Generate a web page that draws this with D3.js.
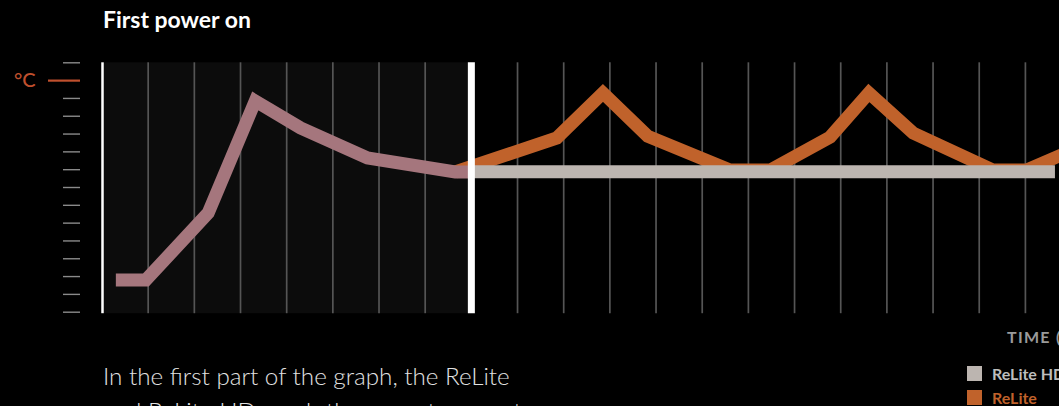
<!DOCTYPE html>
<html>
<head>
<meta charset="utf-8">
<script src="https://cdn.jsdelivr.net/npm/d3@7"></script>
<style>
  html, body { margin:0; padding:0; background:#000; overflow:hidden; }
  svg { display:block; }
  text { font-family: Lato, "Noto Sans", sans-serif; }
</style>
</head>
<body>
<svg id="chart" width="1059" height="406"></svg>
<script>
// ---- data (x in time steps, y in axis-tick units) ----
const timeSteps = d3.range(0, 21);        // vertical grid positions
const tempTicks = d3.range(0, 15);        // y-axis tick marks
const unitTick = 13;                       // tick carrying the °C label
const phaseSplit = 8;                      // first power on ends here

const relitePreX = [0.3, 0.95, 2.3, 3.32, 4.3, 5.75, 7.65, 7.95];
const relitePreY = [1.78, 1.78, 5.54, 11.83, 10.32, 8.63, 7.84, 7.84];

const reliteX = [7.65, 9.85, 10.85, 11.82, 13.6, 14.47, 15.77, 16.61, 17.57, 19.3, 20.03, 21];
const reliteY = [7.84, 9.75, 12.28, 9.85, 7.95, 7.95, 9.8, 12.28, 10.03, 7.95, 7.95, 9.05];

const reliteHdX = [8, 20.64];
const reliteHdY = [7.86, 7.86];

const legendLabels = ["ReLite HD", "ReLite"];
const title = "First power on";
const axisUnit = "°C";
const axisTitle = "TIME (min)";
const caption = ["In the first part of the graph, the ReLite", "and ReLite HD reach the same temperature"];

// ---- drawing ----
const svg = d3.select("#chart");
const x = d3.scaleLinear().domain([0, 20]).range([102, 1025.4]);
const y = d3.scaleLinear().domain([0, 14]).range([311.7, 62.3]);
const C = { pink:"#a5767d", orange:"#c0622b", grey:"#bcb5b0", red:"#c0502e" };

// dark panel for the first phase
svg.append("rect")
  .attr("x", x(0)).attr("y", y(14))
  .attr("width", x(phaseSplit) - x(0)).attr("height", y(0) - y(14) + 1.5)
  .attr("fill", "#0c0c0c");

// grid lines
svg.append("g").selectAll("line")
  .data(timeSteps.filter(d => d !== 0 && d !== phaseSplit))
  .join("line")
  .attr("x1", d => x(d)).attr("x2", d => x(d))
  .attr("y1", y(14)).attr("y2", y(0) + 1.5)
  .attr("stroke", "#555").attr("stroke-width", 1.7);

// y axis tick marks
const yAxis = d3.axisLeft(y).tickValues(tempTicks).tickSize(17).tickFormat("");
const gy = svg.append("g").attr("transform", "translate(80,0)").call(yAxis);
gy.select(".domain").remove();
gy.selectAll(".tick line").attr("stroke", "#8a8a8a").attr("stroke-width", 1.4);
gy.selectAll(".tick").filter(d => d === unitTick).select("line")
  .attr("x2", -32).attr("stroke", C.red).attr("stroke-width", 2.2);

svg.append("text")
  .attr("x", 14).attr("y", y(unitTick) + 7)
  .attr("fill", C.red).attr("font-size", 20).attr("font-weight", 500)
  .text(axisUnit);

const line = d3.line().x(d => x(d[0])).y(d => y(d[1])).curve(d3.curveLinear);
const pathStyle = (p, col) => p.attr("fill", "none").attr("stroke", col)
  .attr("stroke-width", 13).attr("stroke-linejoin", "miter").attr("stroke-miterlimit", 10)
  .attr("stroke-linecap", "butt");

svg.append("path").datum(d3.zip(reliteX, reliteY)).attr("d", line).call(pathStyle, C.orange);
svg.append("path").datum(d3.zip(reliteHdX, reliteHdY)).attr("d", line).call(pathStyle, C.grey);
svg.append("path").datum(d3.zip(relitePreX, relitePreY)).attr("d", line).call(pathStyle, C.pink);

// boundaries
svg.append("line")
  .attr("x1", x(0) + 0.5).attr("x2", x(0) + 0.5).attr("y1", y(14)).attr("y2", y(0) + 1.5)
  .attr("stroke", "#fff").attr("stroke-width", 2.5);
svg.append("line")
  .attr("x1", x(phaseSplit)).attr("x2", x(phaseSplit)).attr("y1", y(14)).attr("y2", y(0) + 1.5)
  .attr("stroke", "#fff").attr("stroke-width", 7);

// fit helper
function fit(t, w) {
  const len = t.node().getComputedTextLength();
  const fs = parseFloat(t.attr("font-size"));
  t.attr("font-size", fs * w / len);
}

// title
const tt = svg.append("text").attr("x", 103).attr("y", 28)
  .attr("fill", "#fff").attr("font-size", 20).attr("font-weight", 700).text(title);
fit(tt, 148);

// time axis title
svg.append("text").attr("x", 1007).attr("y", 343)
  .attr("fill", "#9a9a9a").attr("font-size", 16).attr("font-weight", 700)
  .attr("letter-spacing", 1.3).text(axisTitle);

// legend
const lg = svg.append("g").selectAll("g").data(legendLabels).join("g")
  .attr("transform", (d, i) => `translate(967,${366 + i * 24})`);
lg.append("rect").attr("width", 15).attr("height", 15)
  .attr("fill", (d, i) => i === 0 ? C.grey : C.orange);
lg.append("text").attr("x", 25).attr("y", 14)
  .attr("font-size", 16).attr("font-weight", 700)
  .attr("fill", (d, i) => i === 0 ? "#bdbdbd" : C.orange)
  .text(d => d);

// caption
const cap = svg.append("g").selectAll("text").data(caption).join("text")
  .attr("x", 103).attr("y", (d, i) => 385 + i * 35)
  .attr("fill", "#e2e2e2").attr("font-size", 24).attr("font-weight", 300)
  .text(d => d);
fit(cap.filter((d, i) => i === 0), 407);
cap.filter((d, i) => i === 1).attr("font-size", cap.filter((d, i) => i === 0).attr("font-size"));
</script>
</body>
</html>
